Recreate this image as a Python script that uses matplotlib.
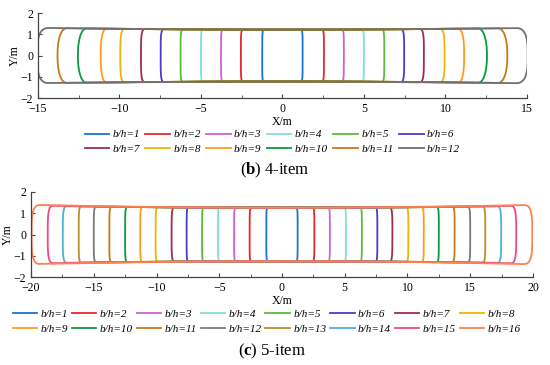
import numpy as np
import matplotlib
matplotlib.use("Agg")
import matplotlib.pyplot as plt
from matplotlib.ticker import MultipleLocator

plt.rcParams['font.family'] = ['Liberation Serif', 'DejaVu Serif']
plt.rcParams['mathtext.fontset'] = 'custom'
plt.rcParams['mathtext.rm'] = 'Liberation Serif'
plt.rcParams['mathtext.bf'] = 'Liberation Serif:bold'

# (b) 4-item : max half width, mid height, end height, end-cap length, cap squareness
w4 = [1.24, 2.55, 3.77, 5.00, 6.25, 7.47, 8.68, 9.95, 11.15, 12.55, 13.80, 15.05]
hm4 = [1.22] * 12
he4 = [1.23, 1.23, 1.24, 1.24, 1.25, 1.25, 1.26, 1.26, 1.27, 1.28, 1.29, 1.30]
cap4 = [0.15, 0.20, 0.20, 0.20, 0.25, 0.30, 0.35, 0.35, 0.40, 0.55, 0.60, 0.80]
sq4 = [5, 5, 5, 5, 5, 4.5, 4, 3.5, 2.6, 2.2, 2.3, 3]
col4 = ['#1a74d2', '#e8262b', '#d060d0', '#80e0d0', '#5abb3a', '#4b3cd0',
        '#a02e48', '#f2b400', '#ff9c1a', '#0a9a40', '#c87a1a', '#707070']

# (c) 5-item
w5 = [1.25, 2.58, 3.82, 5.10, 6.37, 7.60, 8.80, 10.07, 11.30, 12.50, 13.76,
      15.00, 16.20, 17.47, 18.67, 19.95]
hm5 = [1.26] * 16
he5 = [1.27, 1.27, 1.27, 1.28, 1.28, 1.28, 1.29, 1.29, 1.29, 1.30, 1.30,
       1.31, 1.32, 1.33, 1.35, 1.39]
cap5 = [0.18, 0.20, 0.20, 0.20, 0.22, 0.22, 0.30, 0.25, 0.25, 0.25, 0.28,
        0.30, 0.32, 0.40, 0.50, 0.80]
sq5 = [5, 5, 5, 5, 5, 5, 4, 5, 5, 5, 5, 5, 5, 4, 3.5, 3.5]
col5 = ['#1a74d2', '#e8262b', '#d060d0', '#80e0d0', '#5abb3a', '#4b3cd0',
        '#a02e48', '#f2b400', '#ff9c1a', '#0a9a40', '#c87a1a', '#7a7a7a',
        '#b8902e', '#4cb0d8', '#f04a80', '#ff8050']


def loop(w, hm, he, cap, p, n=80):
    x0 = w - cap
    xt = np.linspace(0, x0, n)
    yt = hm + (he - hm) * (xt / x0) ** 2
    t = np.linspace(np.pi / 2, 0, n)
    xc = x0 + cap * np.cos(t) ** (2.0 / p)
    yc = he * np.sin(t) ** (2.0 / p)
    qx = np.concatenate([xt, xc])
    qy = np.concatenate([yt, yc])
    x = np.concatenate([qx, qx[::-1], -qx, -qx[::-1]])
    y = np.concatenate([qy, -qy[::-1], -qy, qy[::-1]])
    return x, y


def style(ax, xlim):
    ax.set_xlim(-xlim, xlim)
    ax.set_ylim(-2, 2)
    ax.xaxis.set_major_locator(MultipleLocator(5))
    ax.xaxis.set_minor_locator(MultipleLocator(2.5))
    ax.yaxis.set_major_locator(MultipleLocator(1))
    for s in ['top', 'right']:
        ax.spines[s].set_visible(False)
    for s in ['left', 'bottom']:
        ax.spines[s].set_color('#444444')
        ax.spines[s].set_linewidth(0.9)
    ax.tick_params(which='both', direction='in', colors='#444444',
                   labelcolor='black', labelsize=8.5)
    ax.tick_params(axis='x', pad=3.5)
    ax.tick_params(axis='y', pad=3.5)
    ax.tick_params(which='major', length=3)
    ax.tick_params(which='minor', length=2)
    ax.set_xlabel('X/m', fontsize=8.5, labelpad=0.5)
    ax.set_ylabel('Y/m', fontsize=8.5, labelpad=0)


def rowmajor(h, ncol):
    out = []
    for j in range(ncol):
        out.append(h[j])
        out.append(h[j + ncol])
    return out


fig = plt.figure(figsize=(5.5, 3.65), dpi=100)
ax1 = fig.add_axes([0.069, 0.7315, 0.889, 0.2325])
ax2 = fig.add_axes([0.0564, 0.241, 0.9126, 0.233])

h1 = []
for i in range(len(w4)):
    x, y = loop(w4[i], hm4[i], he4[i], cap4[i], sq4[i])
    ln, = ax1.plot(x, y, color=col4[i], lw=1.3, label='b/h=%d' % (i + 1))
    h1.append(ln)
style(ax1, 15)

h2 = []
for i in range(len(w5)):
    x, y = loop(w5[i], hm5[i], he5[i], cap5[i], sq5[i])
    ln, = ax2.plot(x, y, color=col5[i], lw=1.3, label='b/h=%d' % (i + 1))
    h2.append(ln)
style(ax2, 20)

leg_kw = dict(frameon=False, handlelength=2.2, handletextpad=0.3,
              labelspacing=0.4,
              prop={'family': 'Liberation Serif', 'style': 'italic', 'size': 8})
fig.legend(handles=rowmajor(h1, 6), ncol=6, loc='center', columnspacing=0.5,
           bbox_to_anchor=(0.495, 0.612), **leg_kw)
fig.legend(handles=rowmajor(h2, 8), ncol=8, loc='center', columnspacing=0.35,
           bbox_to_anchor=(0.485, 0.119), **leg_kw)

fig.text(0.5, 0.533, r'($\mathbf{b}$) 4-item', ha='center', va='center', fontsize=12)
fig.text(0.495, 0.038, r'($\mathbf{c}$) 5-item', ha='center', va='center', fontsize=12)

fig.savefig('out.png', dpi=100)
